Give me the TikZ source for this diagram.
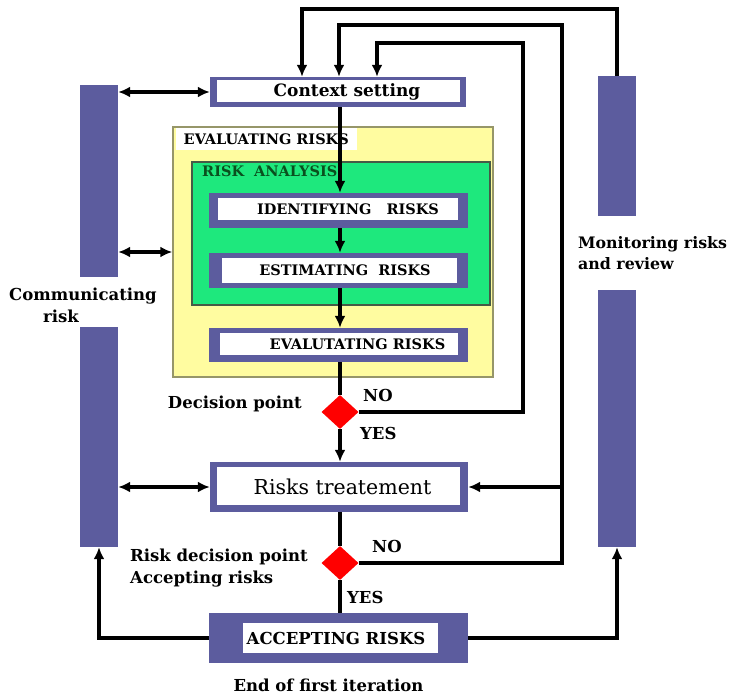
\documentclass[tikz,border=0pt]{standalone}
\usepackage{fontspec}
\setmainfont{DejaVu Serif}
\usetikzlibrary{arrows.meta,shapes.geometric}
\definecolor{barcol}{RGB}{92,92,158}
\definecolor{yel}{RGB}{255,252,160}
\definecolor{grn}{RGB}{30,232,125}
\definecolor{dkgrn}{RGB}{10,80,30}
\definecolor{yelbd}{RGB}{150,150,105}
\definecolor{grnbd}{RGB}{70,90,70}
\tikzset{
  bar/.style={fill=barcol, draw=none, inner sep=0pt, minimum width=38pt},
  frame/.style={fill=barcol, draw=none, inner sep=0pt, minimum width=259pt},
  innerbox/.style={fill=white, draw=none, inner sep=0pt},
  boxtxt/.style={font=\bfseries\fontsize{14.5}{16}\selectfont, inner sep=0pt},
  lbl/.style={font=\bfseries\fontsize{16.5}{22}\selectfont, inner sep=0pt},
  conn/.style={line width=3.2pt, draw=black},
  arr/.style={conn, -{Latex[length=12pt,width=11pt]}},
  darr/.style={conn, {Latex[length=12pt,width=11pt]}-{Latex[length=12pt,width=11pt]}},
  dec/.style={diamond, fill=red, draw=none, inner sep=0pt, minimum width=37pt, minimum height=34pt}
}
\begin{document}
\begin{tikzpicture}[x=1pt,y=-1pt]
\useasboundingbox (0,0) rectangle (735,695);

% side bars
\node[bar, minimum height=192pt] (cl1) at (99,181) {};
\node[bar, minimum height=220pt] (cl2) at (99,437) {};
\node[bar, minimum height=140pt] (mr1) at (617,146) {};
\node[bar, minimum height=257pt] (mr2) at (617,418.5) {};

% evaluating and analysis containers
\node[fill=yel, draw=yelbd, line width=1.5pt, minimum width=320pt, minimum height=250pt, inner sep=0pt] (evalbox) at (333,252) {};
\node[fill=white, inner xsep=8pt, minimum height=22pt, anchor=west, font=\bfseries\fontsize{14.5}{16}\selectfont] (evallbl) at (175.5,139) {EVALUATING RISKS};
\node[fill=grn, draw=grnbd, line width=2pt, minimum width=298pt, minimum height=143pt, inner sep=0pt] (anabox) at (341,233.5) {};
\node[boxtxt, text=dkgrn, anchor=west] (analbl) at (202,171) {RISK\ \ ANALYSIS};

% context setting
\node[frame, minimum width=256pt, minimum height=30pt] (ctx) at (338,92) {};
\node[innerbox, minimum width=243pt, minimum height=22pt] (ctxin) at (338.5,91) {};
\node[boxtxt, font=\bfseries\fontsize{17}{19}\selectfont] (ctxt) at (347,92) {Context setting};

% identifying
\node[frame, minimum height=35pt] (ident) at (338.5,210.5) {};
\node[innerbox, minimum width=240pt, minimum height=22pt] (identin) at (338,209) {};
\node[boxtxt] (identt) at (348,209.5) {IDENTIFYING\ \ \ RISKS};

% estimating
\node[frame, minimum height=35pt] (estim) at (338.5,270.5) {};
\node[innerbox, minimum width=235pt, minimum height=25pt] (estimin) at (339.5,270.5) {};
\node[boxtxt] (estimt) at (345,270.5) {ESTIMATING\ \ RISKS};

% evaluating
\node[frame, minimum height=34pt] (evalu) at (338.5,345) {};
\node[innerbox, minimum width=238pt, minimum height=22pt] (evaluin) at (339,344) {};
\node[boxtxt] (evalut) at (357.5,344.5) {EVALUTATING RISKS};

% decision 1
\node[dec] (d1) at (340,412) {};
\node[lbl, anchor=east] (d1lbl) at (302,404) {Decision point};
\node[lbl, anchor=west] (no1) at (363,395) {NO};
\node[lbl, anchor=west] (yes1) at (360,433) {YES};

% treatment
\node[frame, minimum width=258pt, minimum height=50pt] (treat) at (339,487) {};
\node[innerbox, minimum width=243pt, minimum height=38pt] (treatin) at (338.5,486) {};
\node[inner sep=0pt, font=\fontsize{20.5}{22}\selectfont] (treatt) at (342.5,487) {Risks treatement};

% decision 2
\node[dec] (d2) at (340,563) {};
\node[lbl, anchor=west, align=left] (d2lbl) at (130,568) {Risk decision point\\Accepting risks};
\node[lbl, anchor=west] (no2) at (372,546) {NO};
\node[lbl, anchor=west] (yes2) at (347,597) {YES};

% accepting
\node[frame, minimum height=50pt] (acc) at (338.5,638) {};
\node[innerbox, minimum width=195pt, minimum height=30pt] (accin) at (340.5,638) {};
\node[boxtxt, font=\bfseries\fontsize{16.5}{18}\selectfont] (acct) at (336,638.5) {ACCEPTING RISKS};
\node[lbl] (endlbl) at (328.5,685) {End of first iteration};

% side labels
\node[lbl, anchor=west, align=left] (comm) at (9,305.5) {Communicating\\\hspace*{34pt}risk};
\node[lbl, anchor=west, align=left, font=\bfseries\fontsize{15.8}{21}\selectfont] (moni) at (578,253.5) {Monitoring risks\\and review};

% loop coordinates
\coordinate (t1) at (302,9);
\coordinate (r2) at (562,25);
\coordinate (t2) at (339,25);
\coordinate (r3) at (523,43);
\coordinate (t3) at (377,43);

% spine
\draw[arr] (ctx.south -| d1) -- (ident.north -| d1);
\draw[arr] (ident.south -| d1) -- (estim.north -| d1);
\draw[arr] (estim.south -| d1) -- (evalu.north -| d1);
\draw[conn] (evalu.south -| d1) -- (d1.north);
\draw[arr] (d1.south) -- (treat.north -| d1);
\draw[conn] (treat.south -| d2) -- (d2.north);
\draw[conn] (d2.south) -- (acc.north -| d2);

% feedback loops
\draw[arr] (d1.east) -| (r3) -- (t3) -- (t3 |- ctx.north);
\draw[arr] (d2.east) -| (r2) -- (t2) -- (t2 |- ctx.north);
\draw[arr] (r2 |- treat.east) -- (treat.east);
\draw[arr] (mr1.north) |- (t1) -- (t1 |- ctx.north);
\draw[arr] (acc.west) -| (cl2.south);
\draw[arr] (acc.east) -| (mr2.south);

% communication arrows
\draw[darr] (cl1.east |- ctx.west) -- (ctx.west);
\draw[darr] (cl1.east |- evalbox.west) -- (evalbox.west);
\draw[darr] (cl2.east |- treat.west) -- (treat.west);
\end{tikzpicture}
\end{document}
